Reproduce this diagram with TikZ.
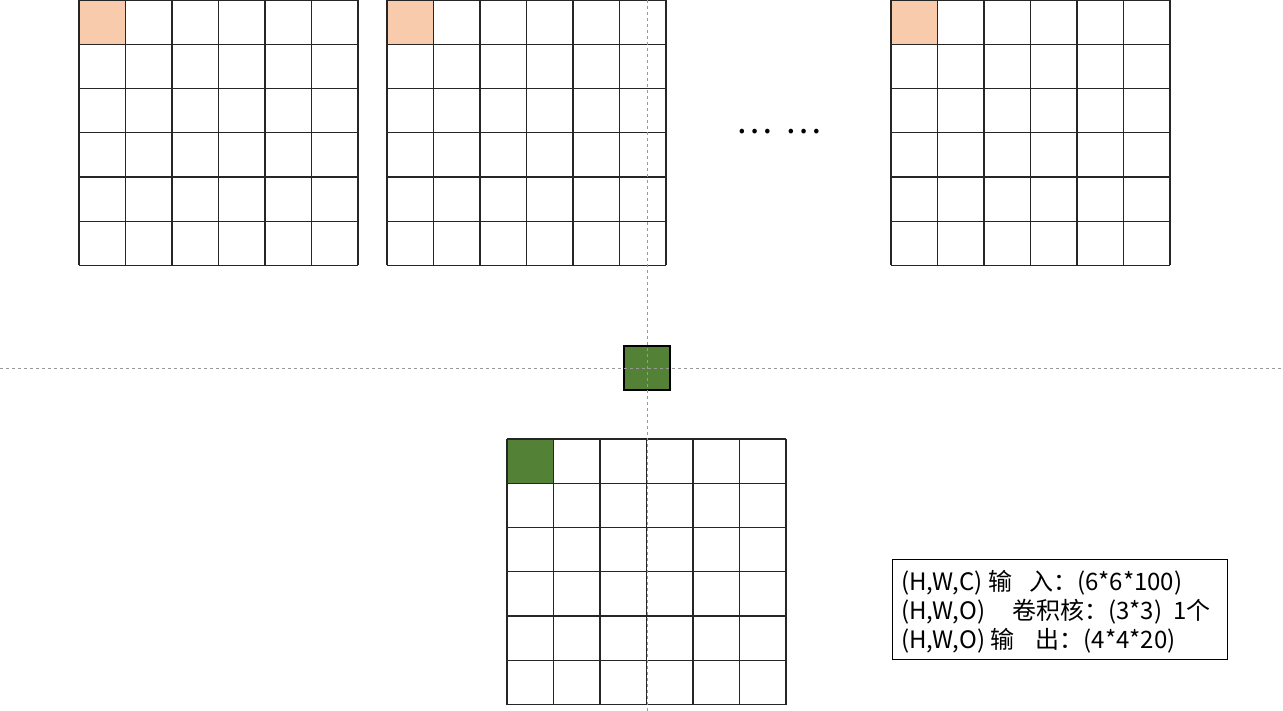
\documentclass[tikz,border=0pt]{standalone}
\usepackage{fontspec}
\setmainfont{Noto Sans CJK SC}
\definecolor{peach}{RGB}{248,203,173}
\definecolor{leaf}{RGB}{83,129,53}
\begin{document}
\begin{tikzpicture}[x=1pt,y=-1pt,
  gridline/.style={draw=black!85,line width=1.2pt},
  guide/.style={draw=black!40,line width=0.8pt,dash pattern=on 3pt off 3pt},
  infobox/.style={draw=black,line width=0.9pt,inner sep=0pt,minimum width=335pt,minimum height=100pt,anchor=north west},
  infoline/.style={anchor=base west,inner sep=0pt,font=\fontsize{24}{29}\selectfont}]
\useasboundingbox (0,0) rectangle (1283,711);
% highlighted cells
\fill[peach] (79,0) rectangle (125.5,44.2);
\fill[peach] (387,0) rectangle (433.5,44.2);
\fill[peach] (891,0) rectangle (937.6,44.2);
\fill[leaf] (507,439) rectangle (553.5,483.3);
% grids
\foreach \x/\y in {79/0, 387/0, 891/0, 507/439}{
  \foreach \i in {0,...,6}{
    \draw[gridline] (\x+\i*46.5,\y) -- (\x+\i*46.5,\y+265.5);
    \draw[gridline] (\x,\y+\i*44.25) -- (\x+279,\y+\i*44.25);
  }
}
% kernel square
\node[draw=black,line width=1.3pt,fill=leaf,minimum width=46pt,minimum height=44pt,inner sep=0pt] (kernel) at (647,368) {};
% guide lines
\coordinate (vtop) at (647,0);
\coordinate (vbot) at (647,711);
\coordinate (hl) at (0,368);
\coordinate (hr) at (1283,368);
\draw[guide] (vtop) -- (vbot);
\draw[guide] (hl) -- (hr);
% dots
\node[font=\fontsize{34}{34}\selectfont] (dots) at (779,132) {…\hspace{14pt}…};
% info box
\node[infobox] (info) at (892,559) {};
\node[infoline] (l1) at (901,590) {(H,W,C) 输\hspace{17pt}入：(6*6*100)};
\node[infoline] (l2) at (901,619) {(H,W,O)\hspace{27pt}卷积核：(3*3)\hspace{11pt}1个};
\node[infoline] (l3) at (901,648) {(H,W,O) 输\hspace{21pt}出：(4*4*20)};
\end{tikzpicture}
\end{document}
